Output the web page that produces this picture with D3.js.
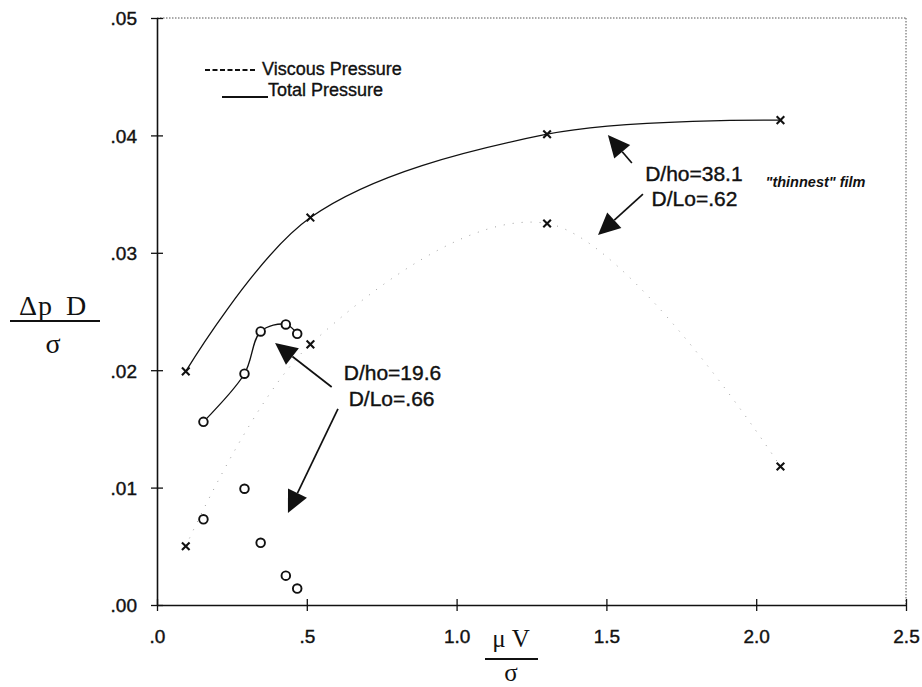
<!DOCTYPE html>
<html>
<head>
<meta charset="utf-8">
<script src="https://cdn.jsdelivr.net/npm/d3@7"></script>
<style>
  html, body { margin: 0; padding: 0; background: #fff; }
  svg { display: block; }
  .sans { font-family: "Liberation Sans", Arial, Helvetica, sans-serif; fill: #111; }
  .serif { font-family: "Liberation Serif", "Times New Roman", serif; fill: #111; }
</style>
</head>
<body>
<script>
// Axis ticks
const xTicks = [0, 0.5, 1.0, 1.5, 2.0, 2.5];
const yTicks = [0, 0.01, 0.02, 0.03, 0.04, 0.05];

// D/ho = 38.1, D/Lo = .62  ("thinnest" film) — crosses
const film38X        = [0.096, 0.512, 1.302, 2.081];
const film38Total    = [0.0199, 0.0330, 0.0401, 0.0413];
const film38Viscous  = [0.0050, 0.0222, 0.0325, 0.0118];

// D/ho = 19.6, D/Lo = .66 — circles
const film19X        = [0.155, 0.292, 0.346, 0.430, 0.468];
const film19Total    = [0.0156, 0.0197, 0.0233, 0.0239, 0.0231];
const film19Viscous  = [0.0073, 0.0099, 0.0053, 0.0025, 0.0014];

// Annotation labels and arrows (data units)
const labels = [
  { text: "D/ho=38.1", x: 1.792, y: 0.03612 },
  { text: "D/Lo=.62",  x: 1.794, y: 0.03399 },
  { text: "D/ho=19.6", x: 0.786, y: 0.01917 },
  { text: "D/Lo=.66",  x: 0.783, y: 0.01695 }
];
const arrows = [
  { x0: 1.585, y0: 0.03765, x1: 1.505, y1: 0.04003 },
  { x0: 1.622, y0: 0.03500, x1: 1.472, y1: 0.03152 },
  { x0: 0.583, y0: 0.01857, x1: 0.394, y1: 0.02232 },
  { x0: 0.604, y0: 0.01670, x1: 0.437, y1: 0.00784 }
];

const W = 922, H = 687;
const plotL = 157, plotR = 906, plotT = 18, plotB = 605;

const svg = d3.select("body").append("svg")
  .attr("width", W).attr("height", H)
  .attr("viewBox", `0 0 ${W} ${H}`);

const x = d3.scaleLinear().domain([0, 2.5]).range([plotL, plotR]);
const y = d3.scaleLinear().domain([0, 0.05]).range([plotB, plotT]);

// Dotted frame on top and right
svg.append("line")
  .attr("x1", plotL).attr("x2", plotR).attr("y1", plotT).attr("y2", plotT)
  .attr("stroke", "#555").attr("stroke-width", 1).attr("stroke-dasharray", "1.5 1.5");
svg.append("line")
  .attr("x1", plotR).attr("x2", plotR).attr("y1", plotT).attr("y2", plotB)
  .attr("stroke", "#555").attr("stroke-width", 1).attr("stroke-dasharray", "1.5 1.5");

// Axes
const fmt1 = v => d3.format(".1f")(v).replace(/^0\./, ".");
const fmt2 = v => d3.format(".2f")(v).replace(/^0\./, ".");

const xAxis = svg.append("g")
  .attr("transform", `translate(0,${plotB})`)
  .call(d3.axisBottom(x).tickValues(xTicks).tickFormat(fmt1).tickSizeOuter(0));
const yAxis = svg.append("g")
  .attr("transform", `translate(${plotL},0)`)
  .call(d3.axisLeft(y).tickValues(yTicks).tickFormat(fmt2).tickSizeOuter(0));

[xAxis, yAxis].forEach(g => {
  g.select(".domain").attr("stroke", "#111").attr("stroke-width", 1.6);
  g.selectAll(".tick line").attr("stroke", "#111").attr("stroke-width", 1.3);
  g.selectAll(".tick text")
    .attr("class", "sans")
    .style("font-size", "19px")
    .attr("stroke", "#111").attr("stroke-width", 0.4);
});
xAxis.selectAll(".tick line").attr("y1", -6).attr("y2", 6);
xAxis.selectAll(".tick text").attr("dy", null).attr("y", 38);
yAxis.selectAll(".tick line").attr("x1", -6).attr("x2", 6);
yAxis.selectAll(".tick text").attr("x", -20).attr("dy", "0.36em");

// Curves
const curve = d3.curveCatmullRom.alpha(0.5);
const line = d3.line().x(d => x(d[0])).y(d => y(d[1])).curve(curve);

const zip = (xs, ys) => xs.map((v, i) => [v, ys[i]]);

// Viscous pressure, D/ho = 38.1 (faint dotted)
svg.append("path")
  .datum(zip(film38X, film38Viscous))
  .attr("d", line)
  .attr("fill", "none")
  .attr("stroke", "#a0a0a0")
  .attr("stroke-width", 1)
  .attr("stroke-dasharray", "1 8");

// Total pressure, D/ho = 38.1
svg.append("path")
  .datum(zip(film38X, film38Total))
  .attr("d", line)
  .attr("fill", "none")
  .attr("stroke", "#111")
  .attr("stroke-width", 1.3);

// Total pressure, D/ho = 19.6
svg.append("path")
  .datum(zip(film19X, film19Total))
  .attr("d", line)
  .attr("fill", "none")
  .attr("stroke", "#111")
  .attr("stroke-width", 1.3);

// Cross markers
const crossPath = "M-3.8,-3.8L3.8,3.8M-3.8,3.8L3.8,-3.8";
const crosses = zip(film38X, film38Total).concat(zip(film38X, film38Viscous));
svg.append("g").selectAll("path")
  .data(crosses).join("path")
  .attr("transform", d => `translate(${x(d[0])},${y(d[1])})`)
  .attr("d", crossPath)
  .attr("stroke", "#111").attr("stroke-width", 2.1).attr("fill", "none");

// Circle markers
const circles = zip(film19X, film19Total).concat(zip(film19X, film19Viscous));
svg.append("g").selectAll("circle")
  .data(circles).join("circle")
  .attr("cx", d => x(d[0])).attr("cy", d => y(d[1]))
  .attr("r", 4.3)
  .attr("fill", "#fff").attr("stroke", "#111").attr("stroke-width", 1.9);

// Annotation arrows
const headLen = 22, headHalf = 10.5;
arrows.forEach(a => {
  const px0 = x(a.x0), py0 = y(a.y0), px1 = x(a.x1), py1 = y(a.y1);
  const dx = px1 - px0, dy = py1 - py0, len = Math.hypot(dx, dy);
  const ux = dx / len, uy = dy / len;
  const bx = px1 - ux * headLen, by = py1 - uy * headLen;
  svg.append("line")
    .attr("x1", px0).attr("y1", py0).attr("x2", bx).attr("y2", by)
    .attr("stroke", "#111").attr("stroke-width", 1.7);
  svg.append("path")
    .attr("d", `M${px1},${py1}L${bx - uy * headHalf},${by + ux * headHalf}L${bx + uy * headHalf},${by - ux * headHalf}Z`)
    .attr("fill", "#111");
});

// Annotation text
svg.append("g").selectAll("text")
  .data(labels).join("text")
  .attr("class", "sans")
  .attr("x", d => x(d.x)).attr("y", d => y(d.y))
  .attr("text-anchor", "middle")
  .style("font-size", "21px")
  .attr("stroke", "#111").attr("stroke-width", 0.4)
  .text(d => d.text);

svg.append("text")
  .attr("class", "sans")
  .attr("x", x(2.198)).attr("y", y(0.0356))
  .attr("text-anchor", "middle")
  .style("font-size", "14.5px").style("font-weight", "bold").style("font-style", "italic")
  .text("\"thinnest\" film");

// Legend
const legend = svg.append("g");
legend.append("line")
  .attr("x1", 205).attr("x2", 257).attr("y1", 70).attr("y2", 70)
  .attr("stroke", "#111").attr("stroke-width", 2).attr("stroke-dasharray", "5 2.5");
legend.append("text")
  .attr("class", "sans").attr("x", 262).attr("y", 75)
  .style("font-size", "18px")
  .attr("stroke", "#111").attr("stroke-width", 0.35)
  .text("Viscous Pressure");
legend.append("line")
  .attr("x1", 222).attr("x2", 268).attr("y1", 97).attr("y2", 97)
  .attr("stroke", "#111").attr("stroke-width", 1.8);
legend.append("text")
  .attr("class", "sans").attr("x", 268).attr("y", 96)
  .style("font-size", "18px")
  .attr("stroke", "#111").attr("stroke-width", 0.35)
  .text("Total Pressure");

// Y axis title: Δp D / σ
const yt = svg.append("g");
yt.append("text")
  .attr("class", "serif").attr("x", 53).attr("y", 315)
  .attr("text-anchor", "middle")
  .style("font-size", "28px")
  .style("letter-spacing", "1px")
  .style("word-spacing", "5px")
  .text("Δp D");
yt.append("line")
  .attr("x1", 10).attr("x2", 100).attr("y1", 321).attr("y2", 321)
  .attr("stroke", "#111").attr("stroke-width", 2);
yt.append("text")
  .attr("class", "serif").attr("x", 53).attr("y", 353)
  .attr("text-anchor", "middle")
  .style("font-size", "28px")
  .text("σ");

// X axis title: μ V / σ
const xt = svg.append("g");
xt.append("text")
  .attr("class", "serif").attr("x", 511).attr("y", 647)
  .attr("text-anchor", "middle")
  .style("font-size", "25px")
  .text("μ V");
xt.append("line")
  .attr("x1", 485).attr("x2", 538).attr("y1", 659).attr("y2", 659)
  .attr("stroke", "#111").attr("stroke-width", 2);
xt.append("text")
  .attr("class", "serif").attr("x", 511).attr("y", 681)
  .attr("text-anchor", "middle")
  .style("font-size", "25px")
  .text("σ");
</script>
</body>
</html>
